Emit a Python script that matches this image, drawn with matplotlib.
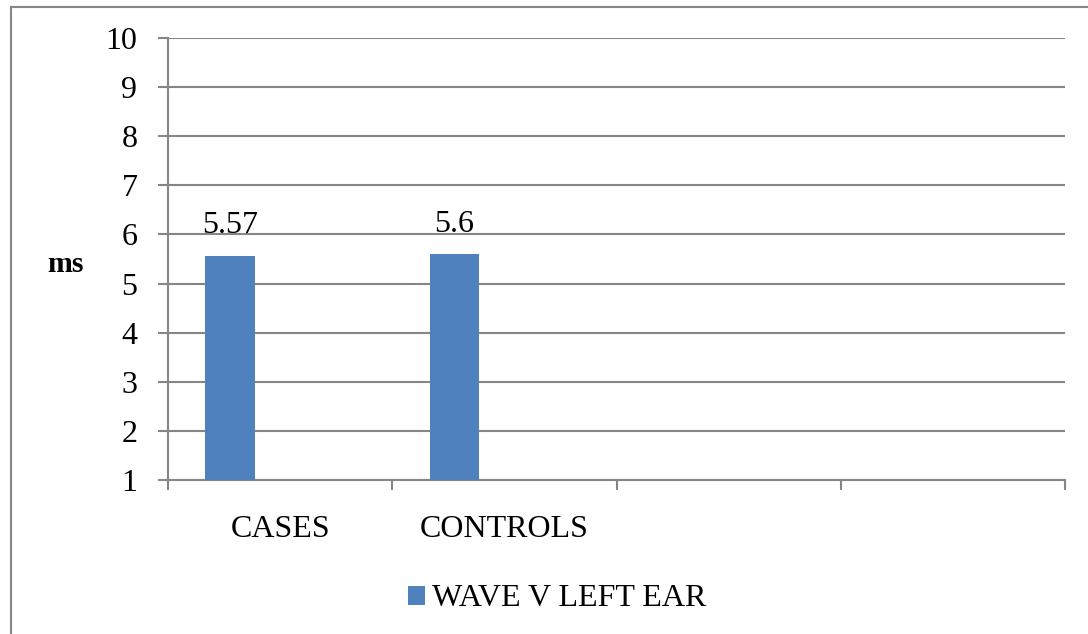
import matplotlib
matplotlib.use('Agg')
import matplotlib.pyplot as plt
from matplotlib.lines import Line2D
import numpy as np

categories = ['CASES', 'CONTROLS', '', '']
wave_v_left = [5.57, 5.6]
labels = ['5.57', '5.6']
series_name = 'WAVE V LEFT EAR'

plt.rcParams['font.family'] = ['Liberation Serif', 'DejaVu Serif']
grey = '#868686'
blue = '#4f81bd'

fig = plt.figure(figsize=(10.88, 6.34), dpi=100)
ax = fig.add_axes([168 / 1088, 1 - 480 / 634, (1065 - 168) / 1088, (480 - 38) / 634])

# Excel-style clustered layout: 3 slots per category, gap 150%, only first used
n_slots = 3
gap = 1.5
w = 1 / (n_slots + gap)
x = np.arange(len(wave_v_left)) - 0.5 + w * (gap / 2 + 0.5)
bars = ax.bar(x, wave_v_left, width=w, color=blue, label=series_name, zorder=3)
for b, t in zip(bars, labels):
    ax.annotate(t, (b.get_x() + b.get_width() / 2, b.get_height()),
                xytext=(0, 11), textcoords='offset points',
                ha='center', va='bottom', fontsize=23, zorder=4)

ax.set_xlim(-0.5, len(categories) - 0.5)
ax.set_ylim(1, 10)
ax.set_yticks(range(1, 11))
ax.yaxis.grid(True, color=grey, linewidth=1.5, zorder=0)
ax.set_xticks(range(len(categories)))
ax.set_xticklabels(categories)
ax.set_xticks(np.arange(len(categories) + 1) - 0.5, minor=True)
ax.tick_params(axis='x', which='major', length=0, pad=25, labelsize=23)
ax.tick_params(axis='x', which='minor', length=7, width=1.5, color=grey, direction='out')
ax.tick_params(axis='y', length=7, width=1.5, color=grey, pad=15, labelsize=23)

for s in ['top', 'right']:
    ax.spines[s].set_visible(False)
for s in ['left', 'bottom']:
    ax.spines[s].set_color(grey)
    ax.spines[s].set_linewidth(1.5)

fig.text(65 / 1088, 1 - 264 / 634, 'ms', fontsize=21.5, fontweight='bold',
         ha='center', va='center')

fig.legend(loc='center', bbox_to_anchor=(557 / 1088, 1 - 599 / 634), frameon=False,
           fontsize=23, handlelength=0.55, handleheight=0.55, handletextpad=0.2)

# outer chart frame (cropped on right and bottom)
fig.add_artist(Line2D([11 / 1088, 11 / 1088], [0, 1 - 7 / 634], color=grey, linewidth=1.5))
fig.add_artist(Line2D([11 / 1088, 1], [1 - 7 / 634, 1 - 7 / 634], color=grey, linewidth=1.5))

fig.savefig('out.png', dpi=100)
